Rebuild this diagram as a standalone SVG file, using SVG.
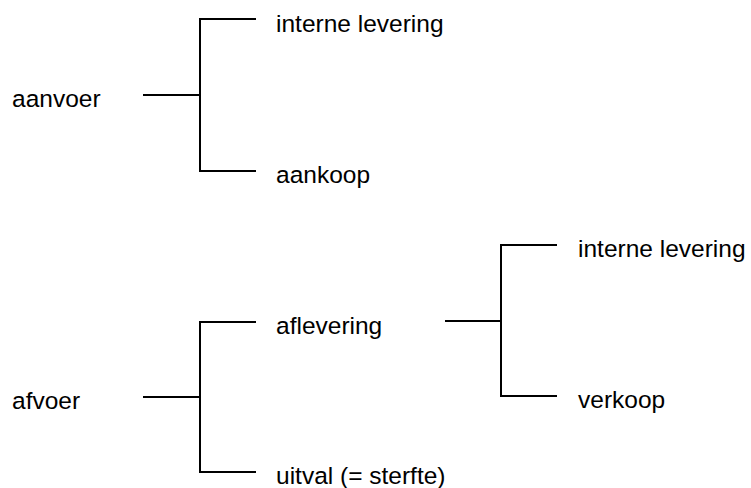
<svg xmlns="http://www.w3.org/2000/svg" width="751" height="488" viewBox="0 0 751 488">
<style>
text { font-family: "Liberation Sans", Arial, sans-serif; font-size: 24.5px; fill: #000; }
.c { stroke: #000; stroke-width: 2; fill: none; }
</style>
<rect width="751" height="488" fill="#fff"/>
<g id="connectors">
<path class="c" d="M143 95 H200 M256 19 H200 V171 H256"/>
<path class="c" d="M143 397 H200 M256 322 H200 V472 H256"/>
<path class="c" d="M445 321 H501 M557 245 H501 V396 H557"/>
</g>
<g id="aanvoer"><text x="12" y="107">aanvoer</text></g>
<g id="interne-levering-1"><text x="276" y="32">interne levering</text></g>
<g id="aankoop"><text x="276" y="183">aankoop</text></g>
<g id="afvoer"><text x="12" y="409">afvoer</text></g>
<g id="aflevering"><text x="276" y="334">aflevering</text></g>
<g id="uitval"><text x="276" y="484">uitval (= sterfte)</text></g>
<g id="interne-levering-2"><text x="578" y="257">interne levering</text></g>
<g id="verkoop"><text x="578" y="408">verkoop</text></g>
</svg>
